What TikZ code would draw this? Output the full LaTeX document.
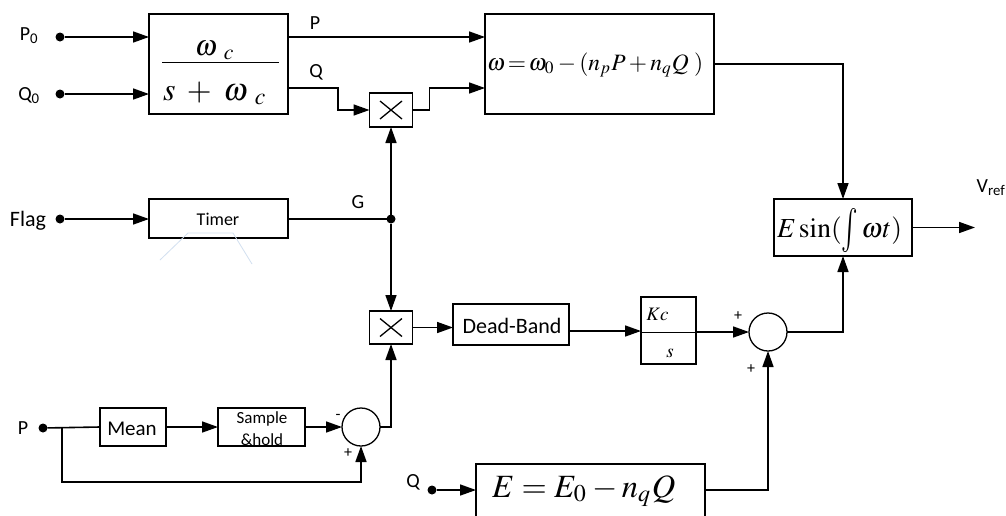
\documentclass[tikz,border=0pt]{standalone}
\usepackage{mathptmx}
\usepackage[no-math]{fontspec}
\setmainfont{Carlito}
\usetikzlibrary{arrows.meta,calc}
\definecolor{faintc}{RGB}{210,224,240}
\tikzset{
 blk/.style={draw, line width=1.3pt, inner sep=0pt, outer sep=0pt},
 wire/.style={line width=1.6pt},
 arr/.style={wire, -{Triangle[length=16pt,width=11pt]}},
 dotn/.style={circle, fill, inner sep=0pt, outer sep=0pt, minimum size=9pt},
 sumn/.style={circle, draw, line width=1.3pt, minimum size=38pt, inner sep=0pt, outer sep=0pt},
 lbl/.style={font=\fontsize{20}{24}\selectfont, inner sep=0pt, anchor=base},
 sgn/.style={font=\fontsize{16}{18}\selectfont, inner sep=0pt},
 mth/.style={inner sep=0pt},
 crossln/.style={line width=1.3pt},
}
\begin{document}
\begin{tikzpicture}[x=1pt,y=-1pt]
\clip (0,0) rectangle (1006,515);
\fill[white] (0,0) rectangle (1006,515);

% boxes
\node[blk, minimum width=139pt, minimum height=100pt] (F) at (218.5,64) {};
\node[blk, minimum width=229pt, minimum height=100pt] (W) at (599.5,64) {};
\node[blk, minimum width=43pt, minimum height=34pt] (M1) at (391,110) {};
\node[blk, minimum width=139pt, minimum height=39pt] (T) at (218.5,218.5) {};
\node[blk, minimum width=43pt, minimum height=33pt] (M2) at (391,327.5) {};
\node[blk, minimum width=116pt, minimum height=41pt] (D) at (511,324.5) {};
\node[blk, minimum width=55pt, minimum height=67pt] (K) at (668.5,330.5) {};
\node[sumn] (S2) at (768,332) {};
\node[blk, minimum width=138pt, minimum height=57pt] (E) at (843,227.5) {};
\node[blk, minimum width=229pt, minimum height=70pt] (B) at (590.5,499) {};
\node[blk, minimum width=66pt, minimum height=38pt] (Mean) at (133,427) {};
\node[blk, minimum width=87pt, minimum height=38pt] (SH) at (261.5,427) {};
\node[sumn] (S1) at (361,427) {};

% dots
\node[dotn] (p0) at (60,37) {};
\node[dotn] (q0) at (60,94) {};
\node[dotn] (fl) at (60,219) {};
\node[dotn] (pd) at (43,428) {};
\node[dotn] (qd) at (432,490) {};
\node[dotn] (J) at (391,219) {};

% helper coordinates
\coordinate (qy) at (0,88);
\coordinate (Pj) at (62,428);
\coordinate (fb) at (0,482);
\coordinate (ky) at (0,331);
\coordinate (kf) at (0,332);
\coordinate (vout) at (975,227.5);

% texts in boxes
\node[mth, anchor=base] (num) at (215,55) {\resizebox{40pt}{!}{$\omega\;{}_{c}$}};
\node[mth, anchor=base] (den) at (215,100) {\resizebox{104pt}{!}{$s\;+\;\omega\;{}_{c}$}};
\draw[line width=1pt] ([xshift=13pt,yshift=2pt]F.west) -- ([xshift=-9pt,yshift=2pt]F.east);
\node[mth, anchor=base west] (wtxt) at (487,70) {\resizebox{216pt}{!}{$\omega\!=\!\omega_0-(n_pP+n_qQ\;)$}};
\node[mth, anchor=base] (etxt) at (839.5,237) {\resizebox{125pt}{!}{$E\sin(\vcenter{\hbox{\scalebox{1}[1.6]{$\int$}}}\,\omega t)$}};
\node[mth, anchor=base west] (btxt) at (492,497) {\resizebox{183pt}{!}{$E=E_0-n_qQ$}};
\node[mth, anchor=base, font=\fontsize{19}{22}\selectfont] (kc) at (657.5,320) {$Kc$};
\node[mth, anchor=base, font=\fontsize{19}{22}\selectfont] (ks) at (670,357) {$s$};
\draw[line width=1pt] (K.west |- kf) -- (K.east |- kf);

\node[lbl, font=\fontsize{18}{21}\selectfont] (tt) at (218,225) {Timer};
\node[lbl, font=\fontsize{22}{26}\selectfont] (dt) at (512,333) {Dead-Band};
\node[lbl, font=\fontsize{21}{25}\selectfont] (mt) at (132,435) {Mean};
\node[lbl, font=\fontsize{17}{20}\selectfont] (st1) at (262,423) {Sample};
\node[lbl, font=\fontsize{17}{20}\selectfont] (st2) at (262,445) {\&hold};

% crosses
\foreach \m in {M1,M2}{
 \draw[crossln] ([xshift=-11pt,yshift=9pt]\m.center) -- ([xshift=11pt,yshift=-9pt]\m.center);
 \draw[crossln] ([xshift=-11pt,yshift=-9pt]\m.center) -- ([xshift=11pt,yshift=9pt]\m.center);
}

% labels
\node[lbl] (lp0) at (29,40) {P\textsubscript{0}};
\node[lbl] (lq0) at (29,100) {Q\textsubscript{0}};
\node[lbl, font=\fontsize{22}{26}\selectfont] (lfl) at (28,226) {Flag};
\node[lbl] (lP) at (315,29) {P};
\node[lbl] (lQ) at (316,77) {Q};
\node[lbl] (lG) at (358,208) {G};
\node[lbl] (lpb) at (23,434) {P};
\node[lbl] (lqb) at (413,487) {Q};
\node[lbl] (lv) at (991,192) {V\textsubscript{ref}};
\node[sgn] (m1) at (338,417) {-};
\node[sgn] (a1) at (348,453) {+};
\node[sgn] (a2) at (738,316) {+};
\node[sgn] (a3) at (751,369) {+};

% faint artefact lines
\draw[faintc, line width=0.8pt] (160,260) -- (188,233) -- (233,233) -- (252,264);

% connectors
\draw[arr] (p0) -- (p0 -| F.west);
\draw[arr] (q0) -- (q0 -| F.west);
\draw[arr] (F.east |- p0) -- (W.west |- p0);
\draw[arr] (F.east |- qy) -- ++(50,0) |- (M1.west);
\draw[arr] (M1.east) -- ++(17,0) |- (W.west |- qy);
\draw[arr] (W.east) -| (E.north);
\draw[arr] (fl) -- (fl -| T.west);
\draw[wire] (T.east |- J) -- (J);
\draw[arr] (J) -- (M1.south);
\draw[arr] (J) -- (M2.north);
\draw[wire] (pd) -- (Mean.west);
\draw[arr] (Mean.east) -- (SH.west);
\draw[arr] (SH.east) -- (S1.west);
\draw[arr] (Pj) |- (S1.south |- fb) -- (S1.south);
\draw[arr] (S1.east) -| (M2.south);
\draw[arr] (M2.east) -- (D.west |- M2.east);
\draw[arr] (D.east |- ky) -- (K.west |- ky);
\draw[arr] (K.east |- kf) -- (S2.west);
\draw[arr] (S2.east) -| (E.south);
\draw[arr] (qd) -- (qd -| B.west);
\draw[arr] (B.east |- qd) -| (S2.south);
\draw[arr] (E.east) -- (vout);
\end{tikzpicture}
\end{document}
